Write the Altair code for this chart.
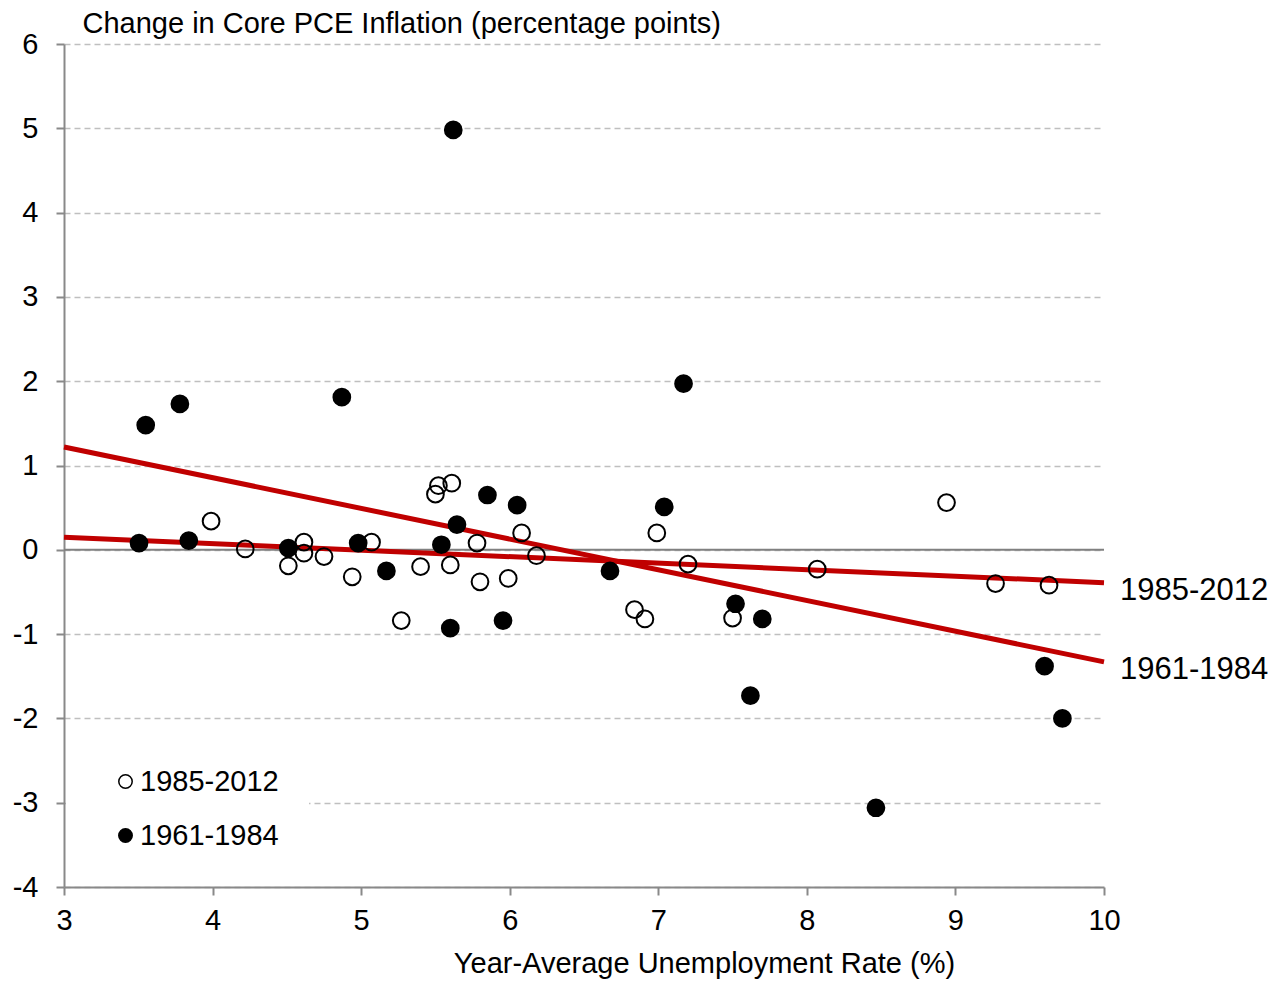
import altair as alt
import pandas as pd

# 1961-1984 (filled circles)
x_early = [3.505, 3.55, 3.78, 3.84, 4.51, 4.87, 4.98, 5.17, 5.62, 5.54, 5.645, 5.60,
           5.85, 5.955, 6.05, 6.675, 7.04, 7.17, 7.52, 7.70, 7.62, 8.465, 9.60, 9.72]
y_early = [0.08, 1.48, 1.73, 0.11, 0.02, 1.81, 0.08, -0.25, 4.98, 0.06, 0.30, -0.93,
           0.65, -0.84, 0.53, -0.25, 0.51, 1.97, -0.64, -0.82, -1.73, -3.06, -1.38, -2.00]

# 1985-2012 (open circles)
x_late = [3.99, 4.22, 4.51, 4.615, 4.615, 4.75, 4.94, 5.07, 5.27, 5.40, 5.50, 5.52, 5.61, 5.60,
          5.78, 5.80, 5.99, 6.08, 6.18, 6.84, 6.91, 6.99, 7.20, 7.50, 8.07, 8.94, 9.27, 9.63]
y_late = [0.34, 0.01, -0.19, 0.09, -0.04, -0.08, -0.32, 0.09, -0.84, -0.20, 0.66, 0.76, 0.79, -0.18,
          0.08, -0.38, -0.34, 0.20, -0.07, -0.71, -0.82, 0.20, -0.17, -0.81, -0.23, 0.56, -0.40, -0.42]

series_names = ["1985-2012", "1961-1984"]

# fitted lines (end points)
fit_x = [3, 10]
fit_late = [0.15, -0.39]
fit_early = [1.22, -1.33]

x_ticks = [3, 4, 5, 6, 7, 8, 9, 10]
y_ticks = [-4, -3, -2, -1, 0, 1, 2, 3, 4, 5, 6]

FONT = "Liberation Sans"

pts = pd.DataFrame({
    "u": x_early + x_late,
    "d": y_early + y_late,
    "series": [series_names[1]] * len(x_early) + [series_names[0]] * len(x_late),
})
fits = pd.DataFrame({
    "u": fit_x + fit_x,
    "d": fit_late + fit_early,
    "series": [series_names[0]] * 2 + [series_names[1]] * 2,
})
labels = pd.DataFrame({
    "u": [fit_x[1], fit_x[1]],
    "d": [fit_late[1], fit_early[1]],
    "series": series_names,
})

xscale = alt.Scale(domain=[3, 10], nice=False, zero=False)
yscale = alt.Scale(domain=[-4, 6], nice=False, zero=False)

xaxis = alt.Axis(values=x_ticks, grid=False, domainColor="#898989", domainWidth=2,
                 tickColor="#898989", tickWidth=2, tickSize=8, labelFontSize=29,
                 labelPadding=11, labelColor="black", labelFont=FONT, labelFlush=False,
                 labelExpr="'' + datum.value",
                 title="Year-Average Unemployment Rate (%)", titleFontSize=29,
                 titleFontWeight="normal", titleFont=FONT, titleColor="black", titlePadding=14,
                 titleX=640, titleAlign="center")
yaxis = alt.Axis(values=y_ticks, grid=True, gridDash=[6, 4], gridColor="#BFBFBF", gridWidth=1.5,
                 domainColor="#898989", domainWidth=2, tickColor="#898989", tickWidth=2,
                 tickSize=8, labelFontSize=29, labelPadding=18, labelColor="black", labelFont=FONT,
                 labelExpr="'' + datum.value",
                 title="Change in Core PCE Inflation (percentage points)", titleFontSize=29,
                 titleFontWeight="normal", titleFont=FONT, titleColor="black", titleAngle=0,
                 titleAlign="left", titleBaseline="alphabetic", titleX=18, titleY=-12)

zero = alt.Chart(pd.DataFrame({"d": [0]})).mark_rule(color="#808080", strokeWidth=2).encode(
    y=alt.Y("d:Q", scale=yscale, axis=yaxis)
)

lines = alt.Chart(fits).mark_line(color="#C00000", strokeWidth=5).encode(
    x=alt.X("u:Q", scale=xscale, axis=xaxis),
    y=alt.Y("d:Q", scale=yscale, axis=yaxis),
    detail="series:N",
)

points = alt.Chart(pts).mark_point(shape="circle", filled=False, size=280, strokeWidth=2,
                                   stroke="black", opacity=1).encode(
    x=alt.X("u:Q", scale=xscale, axis=xaxis),
    y=alt.Y("d:Q", scale=yscale, axis=yaxis),
    fill=alt.Fill("series:N",
                  scale=alt.Scale(domain=series_names, range=["rgba(255,255,255,0)", "black"]),
                  legend=alt.Legend(orient="none", legendX=2, legendY=693, title=None,
                                    fillColor="white", padding=30, labelFontSize=29,
                                    labelFont=FONT, labelColor="black",
                                    symbolSize=180, symbolStrokeColor="black",
                                    symbolStrokeWidth=1.5, symbolType="circle",
                                    symbolOffset=15, labelOffset=0, rowPadding=24)),
)

texts = alt.Chart(labels).mark_text(align="left", baseline="middle", dx=16, dy=8,
                                    fontSize=31, font=FONT, color="black").encode(
    x=alt.X("u:Q", scale=xscale, axis=xaxis),
    y=alt.Y("d:Q", scale=yscale, axis=yaxis),
    text="series:N",
)

chart = alt.layer(zero, lines, points, texts).properties(
    width=1040, height=843,
    autosize=alt.AutoSizeParams(type="none"),
    padding={"left": 56, "top": 36, "right": 167, "bottom": 92},
).configure(background="white").configure_view(stroke=None)

chart.save("out.html", embed_options={"renderer": "svg", "actions": False})
